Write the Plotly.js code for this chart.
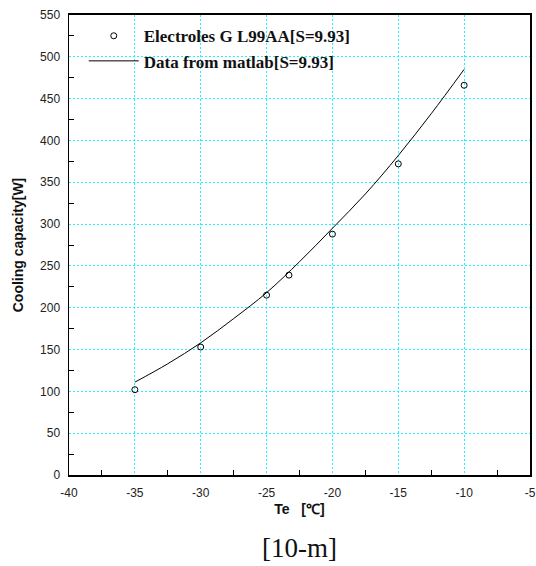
<!DOCTYPE html>
<html>
<head>
<meta charset="utf-8">
<script src="https://cdn.plot.ly/plotly-3.0.1.min.js"></script>
<style>html,body{margin:0;padding:0;background:#fff;}#chart{width:536px;height:566px;}</style>
</head>
<body>
<div id="chart"></div>
<script>
// Measured data (Electroles GL99AA)
const measTe = [-35, -30, -25, -23.3, -20, -15, -10];
const measQ = [102, 153, 215, 239, 288, 372, 466];
// Matlab model curve
const modelTe = [-35, -32.5, -30, -27.5, -25, -22.5, -20, -17.5, -15, -12.5, -10];
const modelQ = [111, 133, 158, 187, 218, 255, 295, 336, 382, 432, 485];
const seriesNames = ['Electroles G\u00a0L99AA[S=9.93]', 'Data from matlab[S=9.93]'];
// Tick labels
const xTickVals = [-40, -35, -30, -25, -20, -15, -10, -5];
const xTickText = ['-40', '-35', '-30', '-25', '-20', '-15', '-10', '-5'];

const gridColor = '#22f0ff';
const tickFont = {family: 'Liberation Sans, Arial, sans-serif', size: 12, color: '#222'};
const titleFont = {family: 'Liberation Sans, Arial, sans-serif', size: 14, color: '#111', weight: 'bold'};

const traces = [
  {x: measTe, y: measQ, name: seriesNames[0], type: 'scatter', mode: 'markers',
   marker: {symbol: 'circle-open', size: 6, color: '#000', line: {width: 1, color: '#000'}}},
  {x: modelTe, y: modelQ, name: seriesNames[1], type: 'scatter', mode: 'lines',
   line: {color: '#000', width: 1, shape: 'spline'}}
];

const layout = {
  width: 536, height: 566,
  margin: {l: 69, r: 6, t: 15, b: 91},
  paper_bgcolor: '#fff', plot_bgcolor: '#fff',
  showlegend: true,
  legend: {x: 0.032, y: 0.993, xanchor: 'left', yanchor: 'top', bgcolor: 'rgba(0,0,0,0)',
    font: {family: 'Liberation Serif, Times New Roman, serif', size: 17, color: '#111', weight: 'bold'},
    itemwidth: 50, tracegroupgap: 0},
  xaxis: {range: [-40, -5], tickvals: xTickVals, ticktext: xTickText, showgrid: true, gridcolor: gridColor, griddash: '2px,2px', gridwidth: 1,
    zeroline: false, showline: true, linecolor: '#000', linewidth: 2, mirror: true,
    ticks: '', ticklabelstandoff: 6, ticklabeloverflow: 'allow', tickfont: tickFont,
    minor: {dtick: 5, tick0: -37.5, ticks: 'inside', ticklen: 5, tickcolor: '#000', tickwidth: 1, showgrid: false},
    title: {text: 'Te\u00a0\u00a0\u00a0[\u2103]', font: titleFont, standoff: 5}},
  yaxis: {range: [0, 550], dtick: 50, tick0: 0, showgrid: true, gridcolor: gridColor, griddash: '2px,2px', gridwidth: 1,
    zeroline: false, showline: true, linecolor: '#000', linewidth: 1.5, mirror: true,
    ticks: '', ticklabelstandoff: 5, tickfont: tickFont,
    minor: {dtick: 50, tick0: 25, ticks: 'inside', ticklen: 5, tickcolor: '#000', tickwidth: 1, showgrid: false},
    title: {text: 'Cooling capacity[W]', font: titleFont, standoff: 13}},
  annotations: [
    {text: '[10-m]', xref: 'paper', yref: 'paper', x: 0.5, y: -0.158, xanchor: 'center', yanchor: 'middle',
     showarrow: false, font: {family: 'Liberation Serif, Times New Roman, serif', size: 27, color: '#111'}}
  ]
};

Plotly.newPlot('chart', traces, layout, {displayModeBar: false, staticPlot: true});
</script>
</body>
</html>
